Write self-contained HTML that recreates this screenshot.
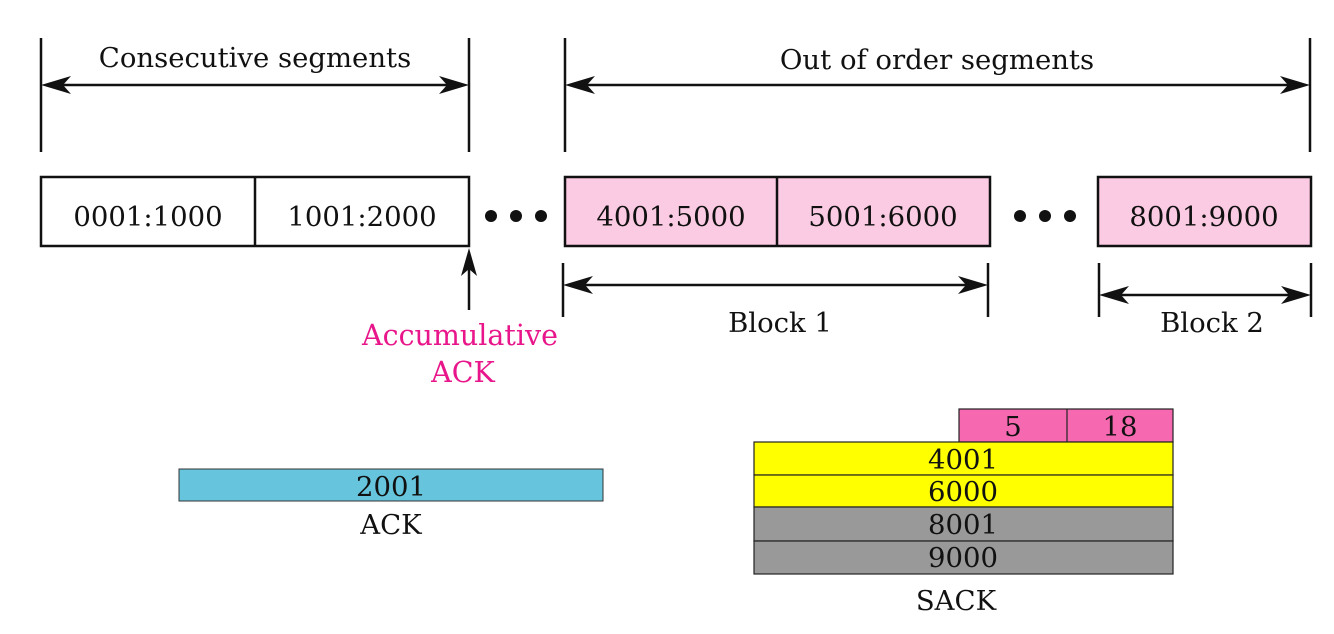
<!DOCTYPE html>
<html><head><meta charset="utf-8"><style>
html,body{margin:0;padding:0;background:#fff}
svg{display:block}
text{font-family:"DejaVu Serif","Liberation Serif",serif;fill:#111}
</style></head><body>
<svg width="1334" height="634" viewBox="0 0 1334 634" xmlns="http://www.w3.org/2000/svg">
<g stroke="#111" stroke-width="2.5" fill="none">
<line x1="41" y1="38" x2="41" y2="152"/><line x1="469" y1="38" x2="469" y2="152"/>
<line x1="48" y1="85" x2="462" y2="85"/>
<line x1="565" y1="38" x2="565" y2="152"/><line x1="1310" y1="38" x2="1310" y2="152"/>
<line x1="572" y1="85" x2="1303" y2="85"/>
<line x1="563" y1="263" x2="563" y2="317"/><line x1="988" y1="263" x2="988" y2="317"/>
<line x1="570" y1="285" x2="981" y2="285"/>
<line x1="1099" y1="263" x2="1099" y2="317"/><line x1="1311" y1="263" x2="1311" y2="317"/>
<line x1="1106" y1="295" x2="1304" y2="295"/>
<line x1="469" y1="310" x2="469" y2="256"/>
</g>
<g fill="#111">
<path d="M41 85 L71 76 L63 85 L71 94 Z"/><path d="M469 85 L439 76 L447 85 L439 94 Z"/>
<path d="M565 85 L595 76 L587 85 L595 94 Z"/><path d="M1310 85 L1280 76 L1288 85 L1280 94 Z"/>
<path d="M563 285 L593 276 L585 285 L593 294 Z"/><path d="M988 285 L958 276 L966 285 L958 294 Z"/>
<path d="M1099 295 L1129 286 L1121 295 L1129 304 Z"/><path d="M1311 295 L1281 286 L1289 295 L1281 304 Z"/>
<path d="M469 248 L461 276 L469 269 L477 276 Z"/>
<circle cx="491" cy="216" r="6"/><circle cx="516" cy="216" r="6"/><circle cx="541" cy="216" r="6"/>
<circle cx="1020" cy="216" r="6"/><circle cx="1045" cy="216" r="6"/><circle cx="1070" cy="216" r="6"/>
</g>
<g stroke="#111" stroke-width="2.5">
<rect x="41" y="177" width="428" height="69" fill="#fff"/>
<line x1="255" y1="177" x2="255" y2="246"/>
<rect x="565" y="177" width="425" height="69" fill="#fbcbe3"/>
<line x1="777" y1="177" x2="777" y2="246"/>
<rect x="1098" y="177" width="213" height="69" fill="#fbcbe3"/>
</g>
<g font-size="27.5" text-anchor="middle">
<text x="255" y="67">Consecutive segments</text>
<text x="937" y="69">Out of order segments</text>
<text x="148" y="226">0001:1000</text>
<text x="362" y="226">1001:2000</text>
<text x="671" y="226">4001:5000</text>
<text x="883" y="226">5001:6000</text>
<text x="1204" y="226">8001:9000</text>
<text x="780" y="332">Block 1</text>
<text x="1212" y="332">Block 2</text>
<text x="460" y="345" font-size="28.5" style="fill:#e8168a">Accumulative</text>
<text x="463" y="382" font-size="28.5" style="fill:#e8168a">ACK</text>
</g>
<rect x="179" y="469" width="424" height="32" fill="#66c5dd" stroke="#333" stroke-width="1"/>
<g stroke="#222" stroke-width="1.2">
<rect x="959" y="409" width="214" height="33" fill="#f669b0"/>
<line x1="1067" y1="409" x2="1067" y2="442"/>
<rect x="754" y="442" width="419" height="33" fill="#ffff00"/>
<rect x="754" y="475" width="419" height="32" fill="#ffff00"/>
<rect x="754" y="507" width="419" height="34" fill="#999999"/>
<rect x="754" y="541" width="419" height="33" fill="#999999"/>
</g>
<g font-size="27.5" text-anchor="middle">
<text x="391" y="496">2001</text>
<text x="391" y="534">ACK</text>
<text x="1013" y="436">5</text>
<text x="1120" y="436">18</text>
<text x="963" y="469">4001</text>
<text x="963" y="501">6000</text>
<text x="963" y="534">8001</text>
<text x="963" y="567">9000</text>
<text x="956" y="610">SACK</text>
</g>
</svg>
</body></html>
